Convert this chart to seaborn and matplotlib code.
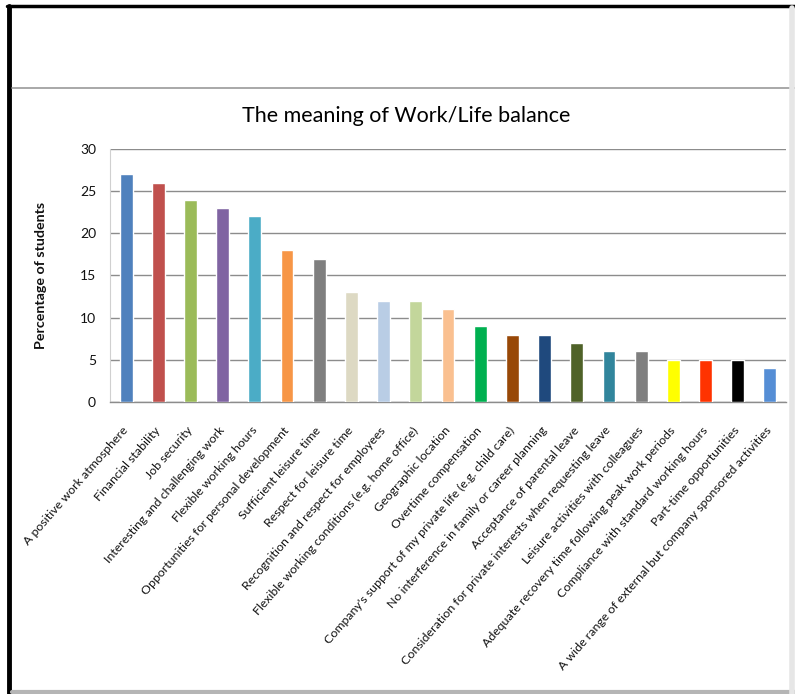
import matplotlib
matplotlib.use("Agg")
import matplotlib.pyplot as plt
import seaborn as sns
import pandas as pd
from matplotlib.lines import Line2D

categories = [
    "A positive work atmosphere",
    "Financial stability",
    "Job security",
    "Interesting and challenging work",
    "Flexible working hours",
    "Opportunities for personal development",
    "Sufficient leisure time",
    "Respect for leisure time",
    "Recognition and respect for employees",
    "Flexible working conditions (e.g. home office)",
    "Geographic location",
    "Overtime compensation",
    "Company's support of my private life (e.g. child care)",
    "No interference in family or career planning",
    "Acceptance of parental leave",
    "Consideration for private interests when requesting leave",
    "Leisure activities with colleagues",
    "Adequate recovery time following peak work periods",
    "Compliance with standard working hours",
    "Part-time opportunities",
    "A wide range of external but company sponsored activities",
]
values = [27, 26, 24, 23, 22, 18, 17, 13, 12, 12, 11, 9, 8, 8, 7, 6, 6, 5, 5, 5, 4]
colors = ["#4F81BD", "#C0504D", "#9BBB59", "#8064A2", "#4BACC6", "#F79646",
          "#7F7F7F", "#DDD9C3", "#B9CDE5", "#C3D69B", "#FAC090", "#00B050",
          "#984807", "#1F497D", "#4F6228", "#31859C", "#7F7F7F", "#FFFF00",
          "#FF3300", "#000000", "#558ED5"]
yticks = [0, 5, 10, 15, 20, 25, 30]

sns.set_theme(style="white")
plt.rcParams['font.family'] = ['Lato', 'DejaVu Sans']

df = pd.DataFrame({"cat": categories, "val": values})

fig = plt.figure(figsize=(7.95, 6.94), dpi=100)
ax = fig.add_axes([110/795, 1-402/694, (786-110)/795, (402-149)/694])

sns.barplot(data=df, x="cat", y="val", hue="cat", palette=colors,
            legend=False, width=0.4, saturation=1, ax=ax, zorder=3)

ax.set_ylim(0, 30)
ax.set_xlim(-0.5, len(categories)-0.5)
ax.set_yticks(yticks)
ax.set_yticklabels([str(t) for t in yticks], fontsize=10, color="#111111")
ax.yaxis.grid(True, color="#8c8c8c", linewidth=1.0)
ax.set_axisbelow(True)
for s in ["top", "right"]:
    ax.spines[s].set_visible(False)
ax.spines["left"].set_color("#d0d0d0")
ax.spines["left"].set_linewidth(0.8)
ax.spines["bottom"].set_color("#8c8c8c")
ax.spines["bottom"].set_linewidth(1.0)
ax.tick_params(axis="y", length=0, pad=10)
ax.tick_params(axis="x", length=0, pad=19)
ax.set_xlabel("")
ax.set_ylabel("Percentage of students", fontsize=10.3, fontweight="bold",
              color="#111111", labelpad=24)
ax.set_xticks(range(len(categories)))
ax.set_xticklabels(categories, rotation=49, ha="right", va="center",
                   rotation_mode="anchor", fontsize=8.9, color="#111111")

fig.text(406/795, 1-116/694, "The meaning of Work/Life balance",
         ha="center", va="center", fontsize=15.5, color="#000000")

# frame decorations
fig.add_artist(Line2D([7/795, 1], [1-6/694, 1-6/694], color="black", lw=2.5,
                      transform=fig.transFigure))
fig.add_artist(Line2D([9/795, 9/795], [0, 1-6/694], color="black", lw=3.5,
                      transform=fig.transFigure))
fig.add_artist(Line2D([12/795, 1], [1-88/694, 1-88/694], color="#9a9a9a", lw=1.2,
                      transform=fig.transFigure))
fig.add_artist(Line2D([12/795, 1], [2/694, 2/694], color="#b5b5b5", lw=3,
                      transform=fig.transFigure))
fig.add_artist(Line2D([1-3/795, 1-3/795], [0, 1-8/694], color="#e6e6e6", lw=4,
                      transform=fig.transFigure))

fig.savefig("out.png", dpi=100)
